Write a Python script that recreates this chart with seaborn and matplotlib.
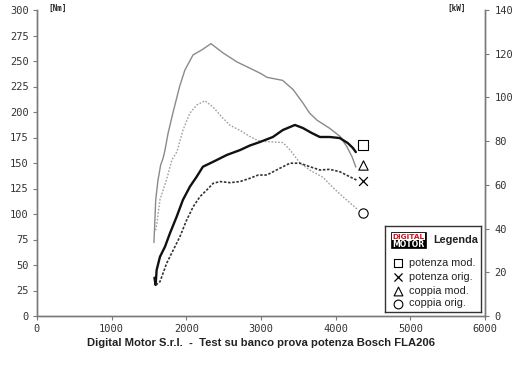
import matplotlib
matplotlib.use("Agg")
import matplotlib.pyplot as plt
import seaborn as sns
import pandas as pd
from matplotlib.patches import Rectangle

# ---- data ----
rpm_cm = [1566, 1575, 1590, 1620, 1656, 1690, 1715, 1755, 1820, 1910, 1980, 2090, 2210, 2330, 2490,
          2680, 2850, 2990, 3080, 3290, 3430, 3560, 3650, 3750, 3920, 4060, 4150, 4220, 4270]
nm_cm = [72, 87, 114, 133, 148, 155, 163, 179, 199, 225, 241, 256, 261, 267, 258,
         249, 243, 238, 234, 231, 222, 209, 199, 192, 184, 176, 166, 156, 146]

rpm_co = [1590, 1606, 1647, 1740, 1807, 1874, 1954, 2048, 2142, 2249, 2356, 2477, 2584, 2718, 2851,
          2959, 3079, 3293, 3387, 3521, 3655, 3829, 3962, 4096, 4300]
nm_co = [84, 91, 114, 135, 153, 161, 182, 199, 207, 211, 205, 195, 187, 182, 176,
         172, 171, 170, 163, 150, 143, 136, 126, 117, 104]

rpm_pm = [1573, 1589, 1602, 1647, 1714, 1780, 1870, 1954, 2048, 2138, 2222, 2356, 2544, 2718,
          2851, 2985, 3159, 3293, 3454, 3561, 3681, 3788, 3922, 4056, 4163, 4230, 4270]
kw_pm = [17.5, 14.2, 21, 27.1, 31.7, 37.8, 45.4, 53.1, 59.2, 63.7, 68.3, 70.5, 73.7, 75.9,
         78, 79.6, 81.9, 85.1, 87.4, 86, 83.7, 81.9, 81.9, 81.4, 79.1, 76.9, 75]

rpm_po = [1593, 1647, 1736, 1825, 1914, 2004, 2092, 2182, 2272, 2360, 2450, 2584, 2718, 2851,
          2963, 3079, 3253, 3387, 3521, 3655, 3788, 3922, 4056, 4190, 4280]
kw_po = [14.2, 15.7, 24.1, 30.2, 36.3, 43.9, 50, 54.6, 57.6, 60.7, 61.5, 61, 61.5, 63,
         64.5, 64.5, 67.6, 69.9, 69.9, 68.3, 66.8, 67.1, 66, 63.7, 62.2]

marker_rpm = 4370
end_kw = {"potenza mod.": 78.2, "potenza orig.": 61.8}
end_nm = {"coppia mod.": 148, "coppia orig.": 101}

legend_labels = ["potenza mod.", "potenza orig.", "coppia mod.", "coppia orig."]
legend_markers = ["s", "x", "^", "o"]

x_ticks = [0, 1000, 2000, 3000, 4000, 5000, 6000]
nm_ticks = [0, 25, 50, 75, 100, 125, 150, 175, 200, 225, 250, 275, 300]
kw_ticks = [0, 20, 40, 60, 80, 100, 120, 140]

title = "Digital Motor S.r.l.  -  Test su banco prova potenza Bosch FLA206"

# ---- figure ----
sns.set_style("white")
plt.rcParams["font.family"] = ["DejaVu Sans"]
W, H = 520, 367
fig = plt.figure(figsize=(W / 100, H / 100), dpi=100)
fig.patch.set_facecolor("white")

def fx(px):
    return px / W

def fy(py):
    return 1 - py / H

ax = fig.add_axes([fx(37), fy(316), fx(485) - fx(37), fy(10) - fy(316)])
ax2 = ax.twinx()

sns.lineplot(x=rpm_cm, y=nm_cm, ax=ax, sort=False, estimator=None, color="#8a8a8a", lw=1.0)
sns.lineplot(x=rpm_co, y=nm_co, ax=ax, sort=False, estimator=None, color="#a0a0a0", lw=1.0,
             linestyle=(0, (1.2, 1.2)))
sns.lineplot(x=rpm_pm, y=kw_pm, ax=ax2, sort=False, estimator=None, color="#111111", lw=1.7)
sns.lineplot(x=rpm_po, y=kw_po, ax=ax2, sort=False, estimator=None, color="#333333", lw=1.2,
             linestyle=(0, (1.5, 1.0)))

mk = dict(s=45, facecolor="white", edgecolor="black", linewidth=0.8, zorder=5)
ax2.scatter([marker_rpm], [end_kw["potenza mod."]], marker="s", **mk)
ax2.scatter([marker_rpm], [end_kw["potenza orig."]], marker="x", s=40, color="black", linewidth=0.9, zorder=5)
ax.scatter([marker_rpm], [end_nm["coppia mod."]], marker="^", **mk)
ax.scatter([marker_rpm], [end_nm["coppia orig."]], marker="o", **mk)

tick_font = dict(family="DejaVu Sans Mono", size=7.5)
for a in (ax, ax2):
    a.set_xlim(0, 6000)
    for s in a.spines.values():
        s.set_color("#7a7a7a")
        s.set_linewidth(1.0)
    a.spines["top"].set_visible(False)
    a.set_xlabel("")
    a.set_ylabel("")
ax.set_ylim(0, 300)
ax2.set_ylim(0, 140)
ax.set_xticks(x_ticks)
ax.set_xticklabels([str(t) for t in x_ticks], fontdict=tick_font, color="#333333")
ax.set_yticks(nm_ticks)
ax.set_yticklabels([str(t) for t in nm_ticks], fontdict=tick_font, color="#333333")
ax2.set_yticks(kw_ticks)
ax2.set_yticklabels([str(t) for t in kw_ticks], fontdict=tick_font, color="#333333")
ax.tick_params(axis="both", direction="out", length=3, width=0.8, color="#7a7a7a", pad=3,
               left=True, bottom=True)
ax2.tick_params(axis="y", direction="out", length=3, width=0.8, color="#7a7a7a", pad=4, right=True)
ax.grid(False)
ax2.grid(False)

fig.text(fx(48), fy(8), "[Nm]", fontsize=5.5, fontweight="bold", family="DejaVu Sans Mono",
         color="#222222", va="center", ha="left")
fig.text(fx(447), fy(8), "[kW]", fontsize=5.5, fontweight="bold", family="DejaVu Sans Mono",
         color="#222222", va="center", ha="left")

fig.text(fx(261), fy(343), title, fontsize=8.1, fontweight="bold",
         family=["Liberation Sans Narrow", "Liberation Sans", "DejaVu Sans"],
         color="#222222", ha="center", va="center")

# ---- legend box ----
lg = fig.add_axes([fx(385), fy(312), fx(481) - fx(385), fy(226) - fy(312)])
lg.set_xlim(385, 481)
lg.set_ylim(312, 226)
lg.set_xticks([])
lg.set_yticks([])
for s in lg.spines.values():
    s.set_color("#333333")
    s.set_linewidth(1.0)
lg.set_facecolor("white")
# logo
lg.add_patch(Rectangle((391, 232), 35, 16, facecolor="black", edgecolor="black", lw=0.5))
lg.add_patch(Rectangle((392, 233), 33, 7, facecolor="white", edgecolor="none"))
lg.text(408.5, 236.6, "DIGITAL", color="#d0101a", fontsize=5.2, fontweight="bold",
        ha="center", va="center", family="DejaVu Sans")
lg.text(408.5, 244.2, "MOTOR", color="white", fontsize=5.6, fontweight="bold",
        ha="center", va="center", family="DejaVu Sans")
lg.text(433, 240, "Legenda", fontsize=7.8, fontweight="bold",
        family=["Liberation Sans Narrow", "Liberation Sans", "DejaVu Sans"],
        ha="left", va="center", color="#222222")
ys = [263, 277, 290.5, 303.5]
for lab, m, yy in zip(legend_labels, legend_markers, ys):
    if m == "x":
        lg.scatter([398], [yy], marker=m, s=34, color="black", linewidth=0.9)
    else:
        lg.scatter([398], [yy], marker=m, s=40, facecolor="white", edgecolor="black", linewidth=0.8)
    lg.text(409, yy, lab, fontsize=7.8, family=["Liberation Sans", "DejaVu Sans"],
            ha="left", va="center", color="#222222")

fig.savefig("out.png", dpi=100, facecolor="white")
